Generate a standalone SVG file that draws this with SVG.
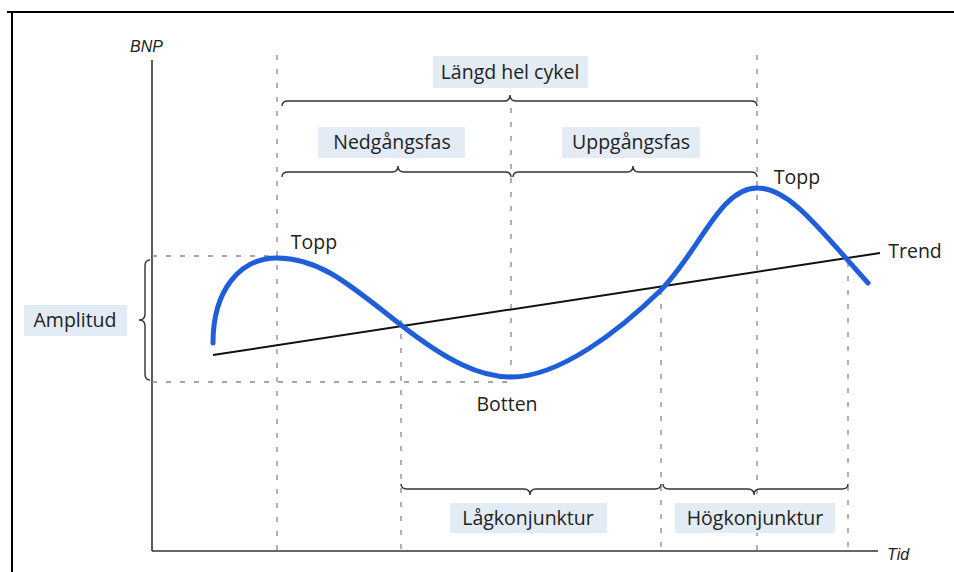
<svg xmlns="http://www.w3.org/2000/svg" width="954" height="572" viewBox="0 0 954 572">
<style>
.frame{stroke:#000;stroke-width:2;fill:none}
.axis{stroke:#333;stroke-width:1.6;fill:none}
.dash{stroke:#888;stroke-width:1.3;stroke-dasharray:5 9;fill:none}
.brace{stroke:#333;stroke-width:1.4;fill:none}
.box{fill:#e3ebf5}
.lbl{font-family:"Open Sans","Noto Sans",sans-serif;font-size:19.5px;fill:#222;text-anchor:middle}
.it{font-family:"Liberation Sans",sans-serif;font-style:italic;font-size:16px;fill:#222}
.curve{stroke:#1f5ed8;stroke-width:5;fill:none;stroke-linecap:round}
.trend{stroke:#111;stroke-width:2;fill:none}
</style>
<rect width="954" height="572" fill="#fff"/>
<g id="frame">
<line class="frame" x1="7" y1="12" x2="954" y2="12"/>
<line class="frame" x1="12" y1="12" x2="12" y2="572"/>
</g>
<g id="axes">
<line class="axis" x1="152" y1="60" x2="152" y2="551"/>
<line class="axis" x1="152" y1="551" x2="878" y2="551"/>
<text class="it" x="130" y="52">BNP</text>
<text class="it" x="887" y="560">Tid</text>
</g>
<g id="connectors">
<line class="dash" x1="277" y1="55" x2="277" y2="551"/>
<line class="dash" x1="757" y1="55" x2="757" y2="551"/>
<line class="dash" x1="511" y1="108" x2="511" y2="382"/>
<line class="dash" x1="401" y1="320" x2="401" y2="551"/>
<line class="dash" x1="661" y1="290" x2="661" y2="551"/>
<line class="dash" x1="848" y1="262" x2="848" y2="551"/>
<line class="dash" x1="152" y1="256" x2="277" y2="256"/>
<line class="dash" x1="152" y1="382" x2="511" y2="382"/>
<path class="brace" d="M282,106 Q282,101 288,101 L504,101 Q510,101 510,95 Q510,101 516,101 L751,101 Q757,101 757,106"/>
<path class="brace" d="M282,177 Q282,172 288,172 L392,172 Q398,172 398,166 Q398,172 404,172 L505,172 Q511,172 511,177"/>
<path class="brace" d="M513,177 Q513,172 519,172 L627,172 Q633,172 633,166 Q633,172 639,172 L751,172 Q757,172 757,177"/>
<path class="brace" d="M401,484 Q401,489 407,489 L524,489 Q530,489 530,495 Q530,489 536,489 L655,489 Q661,489 661,484"/>
<path class="brace" d="M663,484 Q663,489 669,489 L748,489 Q754,489 754,495 Q754,489 760,489 L842,489 Q848,489 848,484"/>
<path class="brace" d="M150,260 Q145,260 145,266 L145,314 Q145,320 139,320 Q145,320 145,326 L145,374 Q145,380 150,380"/>
<line class="trend" x1="213" y1="355" x2="880" y2="253"/>
<path class="curve" d="M213,343 C213,290 240,258 277,258 C320,258 350,285 401,325 C447,361 480,377 511,377 C560,377 620,330 661,290 C700,250 720,188 757,188 C790,188 820,230 868,283"/>
</g>
<g id="langd"><rect class="box" x="433" y="56" width="155" height="32"/><text class="lbl" x="510" y="79">Längd hel cykel</text></g>
<g id="nedgang"><rect class="box" x="318" y="127" width="147" height="31"/><text class="lbl" x="392" y="149">Nedgångsfas</text></g>
<g id="uppgang"><rect class="box" x="562" y="127" width="138" height="31"/><text class="lbl" x="631" y="149">Uppgångsfas</text></g>
<g id="amplitud"><rect class="box" x="24" y="305" width="103" height="31"/><text class="lbl" x="75" y="327">Amplitud</text></g>
<g id="lagkonj"><rect class="box" x="450" y="503" width="157" height="30"/><text class="lbl" x="528" y="525">Lågkonjunktur</text></g>
<g id="hogkonj"><rect class="box" x="675" y="503" width="160" height="30"/><text class="lbl" x="755" y="525">Högkonjunktur</text></g>
<g id="topp1"><text class="lbl" x="314" y="249">Topp</text></g>
<g id="topp2"><text class="lbl" x="797" y="184">Topp</text></g>
<g id="botten"><text class="lbl" x="507" y="411">Botten</text></g>
<g id="trend"><text class="lbl" x="915" y="258">Trend</text></g>
</svg>
